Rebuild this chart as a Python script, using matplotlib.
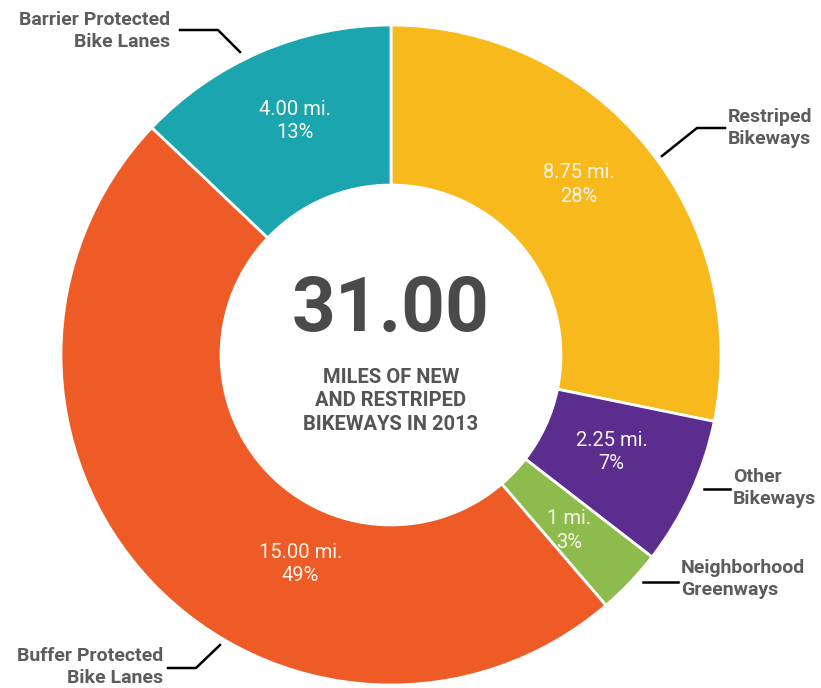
import numpy as np
import matplotlib.pyplot as plt

# bikeway miles added in 2013, clockwise from the top
categories = ["Restriped\nBikeways", "Other\nBikeways", "Neighborhood\nGreenways",
              "Buffer Protected\nBike Lanes", "Barrier Protected\nBike Lanes"]
miles = [8.75, 2.25, 1.0, 15.00, 4.00]
mile_labels = ["8.75 mi.", "2.25 mi.", "1 mi.", "15.00 mi.", "4.00 mi."]
pct_labels = ["28%", "7%", "3%", "49%", "13%"]
colors = ["#F8B91C", "#5A2D8E", "#8DBB4C", "#EE5B26", "#1BA6AF"]
total_text = "31.00"
subtitle = "MILES OF NEW\nAND RESTRIPED\nBIKEWAYS IN 2013"

plt.rcParams['font.family'] = ['Roboto', 'DejaVu Sans']

fig = plt.figure(figsize=(8.21, 6.88), dpi=100)
ax = fig.add_axes([0, 0, 1, 1])

cx, cy, R = 391, 333, 330
wedges, _ = ax.pie(miles, colors=colors, startangle=90, counterclock=False,
                   radius=R, center=(cx, cy),
                   wedgeprops=dict(width=R * 0.485, edgecolor="white", linewidth=2))
ax.set_xlim(0, 821)
ax.set_ylim(0, 688)
ax.set_aspect("equal")
ax.axis("off")

# label radius / angle shift per slice (pixels, degrees)
lab_r = [254, 241, 250, 228, 253]
lab_shift = [3, 1, -1, 23, -1]
for w, ml, p, r, s in zip(wedges, mile_labels, pct_labels, lab_r, lab_shift):
    ang = np.deg2rad((w.theta1 + w.theta2) / 2 + s)
    ax.text(cx + r * np.cos(ang), cy + r * np.sin(ang), ml + "\n" + p,
            ha="center", va="center", color="#f8f4ec", fontsize=14.5,
            linespacing=1.3)

ax.text(cx, 688 - 310, total_text, ha="center", va="center", fontsize=55,
        fontweight="bold", color="#4a4a4a")
ax.text(cx, 688 - 401, subtitle, ha="center", va="center", fontsize=14.5,
        fontweight="bold", color="#555555", linespacing=1.3)

lab_color = "#5c5c5c"
# outside labels: text position, alignment, leader line pixel points
outside = [
    (728, 128, "left", [(725, 128), (697, 128), (662, 156)]),
    (733, 488, "left", [(704, 489), (730, 489)]),
    (681, 579, "left", [(643, 582), (678, 582)]),
    (163, 667, "right", [(168, 668), (196, 668), (220, 645)]),
    (170, 31, "right", [(180, 30), (218, 30), (240, 52)]),
]
for name, (tx, ty, ha, pts) in zip(categories, outside):
    ax.text(tx, 688 - ty, name, ha=ha, va="center", fontsize=14,
            fontweight="bold", color=lab_color, linespacing=1.25)
    xs = [p[0] for p in pts]
    ys = [688 - p[1] for p in pts]
    ax.plot(xs, ys, color="black", lw=1.8)

fig.savefig("out.png", dpi=100)
